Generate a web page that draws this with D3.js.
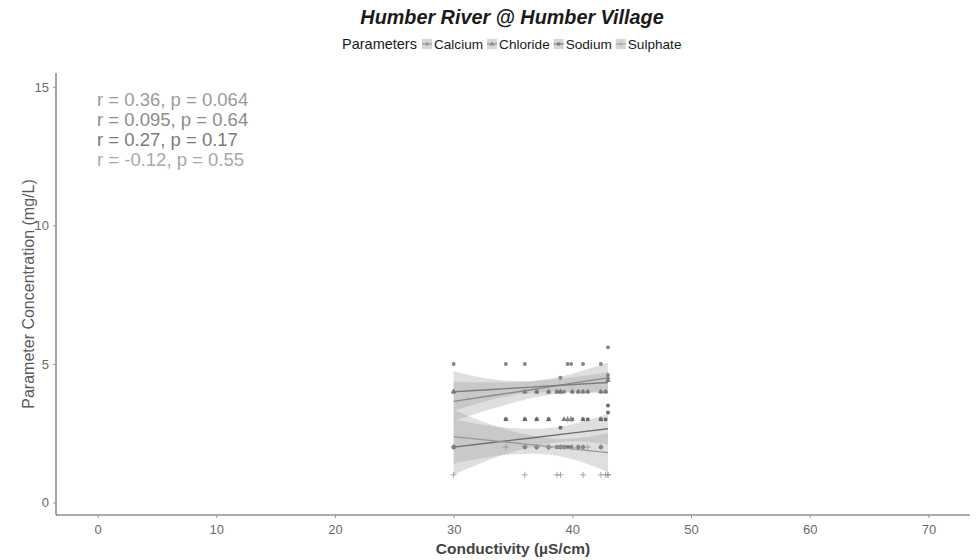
<!DOCTYPE html>
<html><head><meta charset="utf-8">
<script src="https://cdn.jsdelivr.net/npm/d3@7"></script>
<style>body{margin:0;background:#fff} svg{display:block}</style>
</head><body>
<svg id="chart" width="977" height="560"></svg>
<script>
// ---------- data ----------
const parameters = ["Calcium", "Chloride", "Sodium", "Sulphate"];
const conductivity = [30.0, 30.0, 34.4, 36.0, 36.0, 37.0, 37.0, 38.0, 38.0, 38.7, 39.0, 39.0, 39.3, 39.6, 39.9, 40.0, 40.5, 40.9, 40.9, 41.3, 42.4, 42.4, 42.8, 43.0, 43.0];
const calcium  = [5, 4, 5, 5, 4, 4, 4, 4, 4, 4, 4.5, 4, 4, 5, 5, 4, 4, 5, 4, 4, 5, 4, 4, 5.6, 4.6];
const chloride = [4, 4, 3, 3, 4, 4, 3, 4, 3, 4, 4, 4, 3, 3, 3, 4, 4, 4, 3, 4, 3, 4, 4, 4.4, 4.5];
const sodium   = [2, 2, 3, 3, 2, 3, 2, 3, 2, 2, 2.7, 2, 2, 2, 2, 3, 2, 3, 2, 3, 3, 2, 3, 3.5, 3.25];
const sulphate = [2, 1, 2, 1, 2, 2, 2, 2, 2, 1, 2, 1, 2, 3, 3, 2, 2, 1, 2, 2, 1, 2, 1, 1, 1];

// fitted lines and 95% bands at these conductivities
const fitX = [30, 33.25, 36.5, 39.75, 43];
const calciumFit   = [3.65, 3.86, 4.07, 4.29, 4.50];
const calciumLow   = [2.95, 3.38, 3.76, 3.96, 3.95];
const calciumHigh  = [4.35, 4.34, 4.38, 4.62, 5.05];
const chlorideFit  = [4.00, 4.08, 4.165, 4.25, 4.33];
const chlorideLow  = [3.30, 3.72, 3.95, 4.00, 3.95];
const chlorideHigh = [4.75, 4.45, 4.38, 4.50, 4.70];
const sodiumFit    = [2.00, 2.165, 2.33, 2.495, 2.66];
const sodiumLow    = [1.00, 1.58, 2.00, 2.20, 2.10];
const sodiumHigh   = [3.00, 2.76, 2.66, 2.80, 3.20];
const sulphateFit  = [2.38, 2.235, 2.09, 1.945, 1.80];
const sulphateLow  = [1.40, 1.66, 1.76, 1.60, 1.10];
const sulphateHigh = [3.35, 2.80, 2.42, 2.30, 2.50];

const statLabels = ["r = 0.36, p = 0.064", "r = 0.095, p = 0.64", "r = 0.27, p = 0.17", "r = -0.12, p = 0.55"];
const xTicks = [0, 10, 20, 30, 40, 50, 60, 70];
const yTicks = [0, 5, 10, 15];

// ---------- setup ----------
const series = [
  {name: "Calcium",  y: calcium,  fit: calciumFit,  lo: calciumLow,  hi: calciumHigh,  color: "#9a9a9a", shape: d3.symbolCircle,   filled: true},
  {name: "Chloride", y: chloride, fit: chlorideFit, lo: chlorideLow, hi: chlorideHigh, color: "#8c8c8c", shape: d3.symbolTriangle, filled: true},
  {name: "Sodium",   y: sodium,   fit: sodiumFit,   lo: sodiumLow,   hi: sodiumHigh,   color: "#7a7a7a", shape: d3.symbolSquare,   filled: true},
  {name: "Sulphate", y: sulphate, fit: sulphateFit, lo: sulphateLow, hi: sulphateHigh, color: "#a8a8a8", shape: d3.symbolPlus,     filled: false}
];

const svg = d3.select("#chart");
const font = "'Liberation Sans', Arial, sans-serif";
const panel = {left: 56, right: 970, top: 73, bottom: 515};

const x = d3.scaleLinear().domain([-3.5, 73.5]).range([panel.left, panel.right]);
const y = d3.scaleLinear().domain([-0.45, 15.5]).range([panel.bottom, panel.top]);

// title
svg.append("text").attr("x", 512).attr("y", 24).attr("text-anchor", "middle")
  .attr("font-family", font).attr("font-size", 19.8).attr("font-weight", "bold").attr("font-style", "italic")
  .attr("fill", "#1a1a1a").text("Humber River @ Humber Village");

// legend
const leg = svg.append("g").attr("font-family", font);
let lx = 342;
const ly = 44;
const lt = leg.append("text").attr("x", lx).attr("y", ly + 5).attr("font-size", 14.5).attr("fill", "#1a1a1a").text("Parameters");
lx += lt.node().getComputedTextLength() + 5;
series.forEach(s => {
  leg.append("rect").attr("x", lx).attr("y", ly - 5).attr("width", 10).attr("height", 10).attr("fill", "#d6d6d6");
  leg.append("line").attr("x1", lx).attr("x2", lx + 10).attr("y1", ly).attr("y2", ly).attr("stroke", s.color).attr("stroke-width", 1.2);
  leg.append("path").attr("transform", `translate(${lx + 5},${ly})`)
    .attr("d", d3.symbol().type(s.shape).size(10)())
    .attr("fill", s.filled ? s.color : "none").attr("stroke", s.filled ? "none" : s.color).attr("stroke-width", 0.8);
  const t = leg.append("text").attr("x", lx + 12).attr("y", ly + 4.5).attr("font-size", 13.6).attr("fill", "#1a1a1a").text(s.name);
  lx += 12 + t.node().getComputedTextLength() + 4;
});

// axes
const axisColor = "#5a5a5a";
const gx = svg.append("g").attr("transform", `translate(0,${panel.bottom})`)
  .call(d3.axisBottom(x).tickValues(xTicks).tickSize(3).tickPadding(7).tickSizeOuter(0));
const gy = svg.append("g").attr("transform", `translate(${panel.left},0)`)
  .call(d3.axisLeft(y).tickValues(yTicks).tickSize(3).tickPadding(4).tickSizeOuter(0));
[gx, gy].forEach(g => {
  g.select(".domain").attr("stroke", axisColor).attr("stroke-width", 1.1);
  g.selectAll(".tick line").attr("stroke", "#999");
  g.selectAll(".tick text").attr("font-family", font).attr("font-size", 13).attr("fill", "#6a6a6a");
});
gx.select(".domain").attr("d", `M${panel.left},0H${panel.right}`);
gy.select(".domain").attr("d", `M0,${panel.top}V${panel.bottom}`);

svg.append("text").attr("x", 513).attr("y", 554).attr("text-anchor", "middle")
  .attr("font-family", font).attr("font-size", 15.5).attr("font-weight", "bold").attr("fill", "#444")
  .text("Conductivity (µS/cm)");
svg.append("text").attr("transform", `translate(34,${(panel.top + panel.bottom) / 2}) rotate(-90)`)
  .attr("text-anchor", "middle").attr("font-family", font).attr("font-size", 16).attr("fill", "#5a5a5a")
  .text("Parameter Concentration (mg/L)");

// bands
const area = d3.area().x((d, i) => x(fitX[i])).y0(d => y(d[0])).y1(d => y(d[1])).curve(d3.curveNatural);
const line = d3.line().x((d, i) => x(fitX[i])).y(d => y(d)).curve(d3.curveLinear);
series.forEach(s => {
  svg.append("path").datum(s.lo.map((v, i) => [v, s.hi[i]]))
    .attr("d", area).attr("fill", "#9a9a9a").attr("fill-opacity", 0.32);
});
// points
series.forEach(s => {
  svg.append("g").selectAll("path").data(conductivity.map((c, i) => [c, s.y[i]])).join("path")
    .attr("transform", d => `translate(${x(d[0])},${y(d[1])})`)
    .attr("d", d3.symbol().type(s.shape).size(s.filled ? 12 : 14))
    .attr("fill", s.filled ? d3.color(s.color).darker(0.4) : "none")
    .attr("stroke", s.filled ? "none" : d3.color(s.color).darker(0.4)).attr("stroke-width", 0.8);
});
// fit lines
series.forEach(s => {
  svg.append("path").datum(s.fit).attr("d", line).attr("fill", "none")
    .attr("stroke", d3.color(s.color).darker(0.3)).attr("stroke-width", 1.4);
});

// correlation labels
statLabels.forEach((t, i) => {
  svg.append("text").attr("x", 97).attr("y", 106 + i * 20)
    .attr("font-family", font).attr("font-size", 18.5).attr("fill", series[i].color).text(t);
});
</script>
</body></html>
